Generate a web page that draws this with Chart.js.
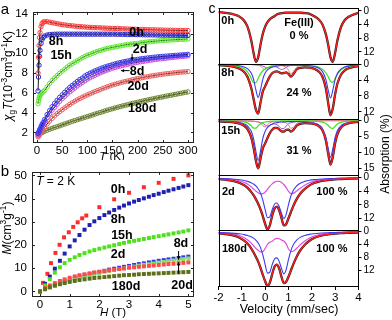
<!DOCTYPE html>
<html>
<head>
<meta charset="utf-8">
<title>Magnetic and Mössbauer data</title>
<script src="https://cdn.jsdelivr.net/npm/chart.js@4.4.1/dist/chart.umd.min.js"></script>
<style>
  html, body { margin: 0; padding: 0; background: #fff; }
  #wrap { position: relative; width: 392px; height: 320px; overflow: hidden; }
  canvas { position: absolute; }
  #chartA { left: 0; top: 0; }
  #chartB { left: 0; top: 160px; }
  #chartC { left: 200px; top: 0; }
</style>
</head>
<body>
<div id="wrap">
  <canvas id="chartA" width="200" height="160"></canvas>
  <canvas id="chartB" width="200" height="160"></canvas>
  <canvas id="chartC" width="192" height="320"></canvas>
</div>
<script>
// ---------- panel a : chi_g T vs T ----------
const T_K = [2,3,4,5,6,8,10,12,15,20,25,30,35,40,45,50,55,60,65,70,75,80,85,90,95,100,
  105,110,115,120,125,130,135,140,145,150,155,160,165,170,175,180,185,190,195,200,
  205,210,215,220,225,230,235,240,245,250,255,260,265,270,275,280,285,290,295,300];
const CHI_0H = [8.0,9.6,10.8,11.6,12.1,12.7,13.0,13.15,13.2,
  13.2,13.15,13.1,13.05,13.0,12.95,12.9,12.87,12.84,12.8,12.78,12.75,12.72,12.7,12.68,12.66,12.64,
  12.63,12.61,12.6,12.59,12.58,12.56,12.55,12.54,12.53,12.52,
  12.51,12.5,12.49,12.48,12.47,12.46,12.45,12.44,12.43,12.42,
  12.41,12.41,12.4,12.39,12.38,12.38,12.37,12.36,12.36,12.35,
  12.34,12.34,12.33,12.33,12.32,12.32,12.31,12.31,12.3,12.3];
const CHI_8H = [6.2,7.6,8.8,9.7,10.3,11.0,11.4,11.6,11.75,
  11.85,11.9,11.92,11.93,11.94,11.94,11.94,11.94,11.94,11.94,11.94,11.94,11.94,11.94,11.94,11.94,11.94,
  11.94,11.94,11.94,11.94,11.94,11.94,11.94,11.94,11.94,11.94,
  11.94,11.93,11.93,11.92,11.92,11.91,11.91,11.9,11.9,11.89,
  11.89,11.88,11.88,11.87,11.87,11.86,11.86,11.85,11.85,11.84,
  11.84,11.84,11.83,11.83,11.83,11.82,11.82,11.82,11.81,11.81];
const CHI_15H = [4.9,5.2,5.45,5.6,5.72,5.9,6.0,6.1,6.25,
  6.6,6.95,7.25,7.5,7.75,7.98,8.2,8.4,8.6,8.8,8.95,9.1,9.25,9.4,9.55,9.7,9.8,
  9.9,10.0,10.1,10.2,10.28,10.35,10.43,10.5,10.55,10.6,
  10.65,10.7,10.75,10.8,10.85,10.9,10.92,10.95,10.98,11.0,
  11.05,11.1,11.12,11.15,11.18,11.2,11.22,11.25,11.28,11.3,
  11.32,11.33,11.35,11.36,11.38,11.4,11.41,11.42,11.44,11.45];
const CHI_2D = [1.9,2.0,2.1,2.25,2.35,2.6,2.8,3.0,3.3,
  3.8,4.2,4.6,4.95,5.25,5.55,5.8,6.05,6.3,6.55,6.75,6.95,7.15,7.35,7.5,7.7,7.85,
  7.98,8.1,8.22,8.33,8.43,8.53,8.62,8.7,8.78,8.86,
  8.93,9.0,9.06,9.12,9.17,9.22,9.27,9.31,9.35,9.39,
  9.43,9.47,9.5,9.53,9.56,9.59,9.62,9.64,9.67,9.69,
  9.71,9.73,9.75,9.77,9.79,9.81,9.83,9.85,9.87,9.89];
const CHI_8D = [1.8,1.9,2.0,2.1,2.2,2.45,2.65,2.85,3.1,
  3.5,3.9,4.25,4.55,4.85,5.15,5.4,5.65,5.88,6.1,6.3,6.5,6.7,6.88,7.05,7.22,7.38,
  7.52,7.65,7.78,7.9,8.01,8.12,8.22,8.32,8.41,8.5,
  8.57,8.64,8.71,8.77,8.83,8.89,8.95,9.0,9.05,9.1,
  9.14,9.18,9.22,9.26,9.3,9.34,9.37,9.41,9.44,9.47,
  9.5,9.53,9.56,9.59,9.62,9.64,9.67,9.69,9.72,9.74];
const CHI_20D = [1.55,1.62,1.7,1.78,1.85,2.0,2.15,2.3,2.5,
  2.85,3.15,3.42,3.68,3.9,4.1,4.3,4.48,4.66,4.83,5.0,5.15,5.29,5.43,5.56,5.68,5.8,
  5.91,6.02,6.13,6.23,6.33,6.43,6.52,6.62,6.71,6.8,
  6.87,6.94,7.01,7.08,7.14,7.2,7.27,7.33,7.39,7.45,
  7.5,7.55,7.6,7.64,7.69,7.73,7.77,7.81,7.85,7.89,
  7.92,7.95,7.98,8.01,8.04,8.07,8.09,8.11,8.13,8.15];
const CHI_180D = [1.75,1.78,1.82,1.85,1.88,1.94,2.0,2.05,2.12,
  2.22,2.32,2.41,2.5,2.58,2.67,2.76,2.85,2.94,3.03,3.12,3.2,3.28,3.36,3.44,3.52,3.6,
  3.68,3.76,3.85,3.93,4.01,4.09,4.17,4.25,4.33,4.4,
  4.47,4.54,4.61,4.68,4.74,4.8,4.87,4.93,4.99,5.05,
  5.11,5.17,5.23,5.28,5.34,5.39,5.45,5.5,5.55,5.6,
  5.65,5.7,5.75,5.8,5.85,5.9,5.95,6.0,6.05,6.1];
const TICKS_A_X = [0,50,100,150,200,250,300];
const TICKS_A_Y = [2,4,6,8,10,12,14];

// ---------- panel b : M vs H at 2 K ----------
const H_0H = [0.1,0.25,0.37,0.52,0.66,0.81,0.97,1.12,1.27,1.42,1.56,2.0,2.5,3.0,3.5,4.0,4.5,5.0];
const M_0H = [3.7,7.6,12.2,16.6,20.1,23.3,25.5,27.8,29.8,31.5,32.7,36.3,39.7,42.5,44.9,46.8,48.5,50.0];
const H_T = [0,0.17,0.33,0.5,0.67,0.83,1.0,1.17,1.33,1.5,1.67,1.83,2.0,2.17,2.33,2.5,2.67,2.83,
  3.0,3.17,3.33,3.5,3.67,3.83,4.0,4.17,4.33,4.5,4.67,4.83,5.0];
const M_8H = [0,3.3,6.4,9.8,13.2,16.3,19.4,22.0,24.3,26.6,28.6,30.2,31.6,32.9,34.0,35.1,36.1,37.0,
  37.9,38.7,39.4,40.1,40.8,41.5,42.1,42.8,43.4,44.0,44.6,45.2,45.8];
const M_15H = [0,2.6,5.3,8.1,10.4,12.2,13.6,14.7,15.7,16.5,17.2,17.8,18.4,18.9,19.4,19.9,20.4,20.9,
  21.4,21.8,22.2,22.6,23.0,23.4,23.8,24.2,24.6,25.0,25.4,25.8,26.3];
const M_2D = [0,1.0,1.9,2.8,3.6,4.4,5.1,5.7,6.3,6.9,7.4,7.9,8.4,8.9,9.4,9.8,10.2,10.6,
  11.0,11.4,11.8,12.1,12.5,12.8,13.2,13.5,13.8,14.1,14.4,14.7,15.0];
const M_8D = [0,0.9,1.7,2.5,3.3,4.0,4.7,5.3,5.9,6.4,6.9,7.4,7.9,8.4,8.8,9.2,9.6,10.0,
  10.4,10.7,11.1,11.4,11.7,12.0,12.4,12.7,13.0,13.3,13.6,13.9,14.2];
const M_20D = [0,1.4,2.6,3.6,4.5,5.2,5.9,6.5,7.0,7.4,7.8,8.2,8.5,8.8,9.1,9.4,9.7,9.9,
  10.2,10.4,10.6,10.8,11.0,11.2,11.4,11.6,11.8,11.9,12.1,12.3,12.5];
const M_180D = [0,1.0,1.8,2.5,3.1,3.6,4.1,4.5,4.9,5.2,5.5,5.8,6.0,6.2,6.4,6.6,6.8,7.0,
  7.1,7.2,7.4,7.5,7.6,7.7,7.8,7.9,8.0,8.1,8.2,8.3,8.4];
const TICKS_B_X = [0,1,2,3,4,5];
const TICKS_B_Y = [0,10,20,30,40,50];

// ---------- panel c : Mössbauer spectra (absorption %) ----------
const VEL = [-2.0,-1.6,-1.3,-1.1,-0.9,-0.75,-0.6,-0.5,-0.4,-0.3,-0.2,-0.1,
  0.0,0.1,0.2,0.3,0.4,0.5,0.6,0.7,0.8,0.9,1.0,1.1,1.2,
  1.35,1.5,1.7,1.9,2.1,2.3,2.45,2.6,2.7,2.8,2.9,3.0,3.1,3.25,3.4,3.6,4.0];
const FIT_0H = [0.3,0.65,1.1,1.65,2.85,4.75,8.5,12.2,14.9,13.6,9.9,6.7,
  4.6,3.3,2.45,1.9,1.55,1.0,0.8,0.65,0.55,0.5,0.45,0.45,0.45,
  0.45,0.5,0.6,0.85,1.55,2.5,3.9,6.8,9.9,13.6,14.9,12.2,8.5,4.7,2.8,1.6,0.5];
const FIT_8H = [0.25,0.42,0.72,1.12,1.96,3.29,5.96,8.64,11.41,12.47,9.68,6.87,
  5.59,4.25,3.05,2.28,1.9,1.83,2.04,2.32,2.22,2.08,2.46,3.15,2.57,
  1.34,0.92,0.8,0.88,1.16,1.86,3.12,6.04,9.74,12.87,11.13,7.52,4.82,2.65,1.63,0.97,0.47];
const BLUE_8H = [0.1,0.16,0.27,0.41,0.71,1.17,2.23,3.76,6.43,8.4,6.42,3.75,
  2.25,1.45,1.0,0.75,0.57,0.46,0.38,0.33,0.29,0.26,0.25,0.23,0.23,
  0.23,0.24,0.29,0.38,0.58,1.02,1.82,3.83,6.52,8.53,6.52,3.83,2.27,1.2,0.73,0.43,0.2];
const GREEN_8H = [0.13,0.23,0.4,0.64,1.15,1.99,3.55,4.64,4.64,3.56,2.43,1.65,
  1.17,0.86,0.67,0.53,0.44,0.37,0.32,0.29,0.27,0.25,0.23,0.23,0.23,
  0.23,0.24,0.28,0.35,0.48,0.77,1.24,2.16,3.18,4.3,4.57,3.65,2.51,1.41,0.86,0.5,0.23];
const ORANGE_8H = [0.01,0.01,0.02,0.03,0.05,0.06,0.09,0.13,0.19,0.3,0.52,1.0,
  1.44,1.02,0.57,0.36,0.28,0.25,0.27,0.33,0.48,0.8,1.5,2.38,1.89,
  0.74,0.34,0.16,0.1,0.06,0.04,0.03,0.03,0.03,0.02,0.02,0.02,0.02,0.02,0.02,0.02,0.02];
const PURPLE_8H = [0.01,0.02,0.03,0.04,0.05,0.07,0.09,0.11,0.15,0.21,0.31,0.47,
  0.73,0.92,0.81,0.64,0.61,0.75,1.07,1.37,1.18,0.77,0.48,0.31,0.22,
  0.14,0.1,0.07,0.05,0.04,0.03,0.03,0.02,0.02,0.02,0.02,0.02,0.02,0.02,0.02,0.02,0.02];
const FIT_15H = [0.23,0.38,0.61,0.95,1.63,2.73,5.2,8.35,12.47,14.98,11.95,8.69,
  7.14,5.44,3.92,2.87,2.32,2.3,2.74,3.39,3.44,2.88,2.84,3.45,3.03,
  1.55,1.03,0.79,0.83,1.05,1.74,2.98,6.14,10.33,13.82,11.33,7.0,4.21,2.2,1.32,0.76,0.37];
const BLUE_15H = [0.14,0.24,0.39,0.6,1.04,1.73,3.29,5.59,9.55,12.5,9.55,5.59,
  3.35,2.15,1.5,1.1,0.78,0.64,0.52,0.45,0.4,0.36,0.33,0.31,0.31,
  0.3,0.33,0.39,0.51,0.77,1.37,2.45,5.18,8.82,11.53,8.82,5.18,3.07,1.61,0.97,0.55,0.25];
const GREEN_15H = [0.05,0.08,0.14,0.23,0.42,0.79,1.61,2.36,2.36,1.62,1.0,0.64,
  0.43,0.31,0.24,0.19,0.15,0.13,0.12,0.1,0.09,0.09,0.09,0.09,0.09,
  0.09,0.1,0.09,0.12,0.17,0.28,0.46,0.89,1.45,2.23,2.45,1.76,1.08,0.54,0.31,0.17,0.08];
const ORANGE_15H = [0.01,0.02,0.03,0.05,0.07,0.09,0.14,0.19,0.28,0.47,0.84,1.58,
  1.99,1.26,0.69,0.42,0.31,0.25,0.29,0.34,0.49,0.75,1.38,2.38,2.18,
  0.88,0.4,0.19,0.11,0.05,0.04,0.03,0.03,0.03,0.03,0.03,0.03,0.02,0.02,0.02,0.02,0.02];
const PURPLE_15H = [0.03,0.04,0.05,0.07,0.1,0.12,0.16,0.21,0.28,0.39,0.56,0.88,
  1.37,1.72,1.49,1.16,1.08,1.28,1.81,2.5,2.46,1.68,1.04,0.67,0.45,
  0.28,0.2,0.12,0.09,0.06,0.05,0.04,0.04,0.03,0.03,0.03,0.03,0.03,0.02,0.02,0.02,0.02];
const FIT_2D = [0.43,0.68,1.07,1.51,2.23,2.98,4.15,5.14,6.29,7.63,9.29,11.27,
  13.57,15.16,13.97,11.17,9.08,8.49,9.54,11.87,14.0,13.67,11.9,10.14,8.41,
  6.29,4.72,3.28,2.26,1.57,1.14,0.92,0.77,0.69,0.61,0.54,0.49,0.44,0.38,0.33,0.28,0.21];
const BLUE_2D = [0.23,0.33,0.47,0.61,0.83,1.08,1.45,1.84,2.39,3.23,4.54,6.57,
  9.37,11.76,11.47,9.37,7.78,7.44,8.44,10.47,12.0,10.77,7.9,5.44,3.81,
  2.39,1.62,1.08,0.76,0.57,0.44,0.37,0.32,0.29,0.26,0.24,0.22,0.2,0.18,0.16,0.14,0.11];
const PINK_2D = [0.2,0.35,0.6,0.9,1.4,1.9,2.7,3.3,3.9,4.4,4.75,4.7,
  4.2,3.4,2.5,1.8,1.3,1.05,1.1,1.4,2.0,2.9,4.0,4.7,4.6,
  3.9,3.1,2.2,1.5,1.0,0.7,0.55,0.45,0.4,0.35,0.3,0.27,0.24,0.2,0.17,0.14,0.1];
const FIT_180D = [0.5,0.86,1.32,1.87,2.81,3.79,5.2,6.42,7.83,9.35,11.29,13.48,
  15.51,16.94,15.92,13.31,10.96,10.28,11.48,14.12,16.1,15.65,14.09,12.18,10.29,
  7.83,5.88,4.09,2.84,1.98,1.43,1.16,0.95,0.84,0.75,0.66,0.6,0.54,0.47,0.41,0.34,0.25];
const BLUE_180D = [0.25,0.36,0.52,0.67,0.91,1.19,1.6,2.02,2.63,3.55,4.99,7.23,
  10.31,12.94,12.62,10.31,8.56,8.18,9.28,11.52,13.2,11.85,8.69,5.98,4.19,
  2.63,1.78,1.19,0.84,0.63,0.48,0.41,0.35,0.32,0.29,0.26,0.24,0.22,0.2,0.18,0.15,0.12];
const PINK_180D = [0.25,0.5,0.8,1.2,1.9,2.6,3.6,4.4,5.2,5.8,6.3,6.25,
  5.2,4.0,3.3,3.0,2.4,2.1,2.2,2.6,2.9,3.8,5.4,6.2,6.1,
  5.2,4.1,2.9,2.0,1.35,0.95,0.75,0.6,0.52,0.46,0.4,0.36,0.32,0.27,0.23,0.19,0.13];
const TICKS_C_X = [-2,-1,0,1,2,3,4];
const TICKS_C_Y = [[0,4,8,12],[0,4,8,12],[0,5,10,15],[0,4,8,12],[0,4,8,12]];

// ---------- helpers ----------
const FONT = '"Liberation Sans", Arial, Helvetica, sans-serif';
Chart.defaults.font.family = FONT;
Chart.defaults.color = '#000';

function pts(xs, ys) { return xs.map((x, i) => ({ x, y: ys[i] })); }
function fixTicks(list) { return s => { s.ticks = list.map(v => ({ value: v })); }; }

// text made of pieces: [text, 'n' | 'i' | 'sub' | 'sup']
function richText(ctx, parts, x, y, size, rotate, align) {
  ctx.save();
  ctx.translate(x, y);
  if (rotate) ctx.rotate(-Math.PI / 2);
  const spec = p => {
    const small = p[1] === 'sub' || p[1] === 'sup';
    return {
      font: (p[1] === 'i' ? 'italic ' : '') + (small ? size * 0.7 : size) + 'px ' + FONT,
      dy: p[1] === 'sub' ? size * 0.3 : p[1] === 'sup' ? -size * 0.38 : 0
    };
  };
  let w = 0;
  parts.forEach(p => { ctx.font = spec(p).font; w += ctx.measureText(p[0]).width; });
  let cx = align === 'left' ? 0 : -w / 2;
  ctx.fillStyle = '#000';
  ctx.textBaseline = 'middle';
  ctx.textAlign = 'left';
  parts.forEach(p => {
    const sp = spec(p);
    ctx.font = sp.font;
    ctx.fillText(p[0], cx, sp.dy);
    cx += ctx.measureText(p[0]).width;
  });
  ctx.restore();
}

function arrow(ctx, x1, y1, x2, y2) {
  const ang = Math.atan2(y2 - y1, x2 - x1), h = 3.5;
  ctx.beginPath(); ctx.moveTo(x1, y1); ctx.lineTo(x2, y2); ctx.stroke();
  ctx.beginPath(); ctx.moveTo(x2, y2);
  ctx.lineTo(x2 - h * Math.cos(ang - 0.5), y2 - h * Math.sin(ang - 0.5));
  ctx.lineTo(x2 - h * Math.cos(ang + 0.5), y2 - h * Math.sin(ang + 0.5));
  ctx.closePath(); ctx.fill();
}

function boldLabel(ctx, text, x, y, size, align) {
  ctx.font = 'bold ' + size + 'px ' + FONT;
  ctx.fillStyle = '#000';
  ctx.textAlign = align || 'center';
  ctx.textBaseline = 'middle';
  ctx.fillText(text, x, y);
}

// frame with small inward ticks (panels a and b)
const frameTicks = {
  id: 'frameTicks',
  afterDraw(chart) {
    const { ctx, chartArea: a, scales: { x, y } } = chart;
    ctx.save();
    ctx.strokeStyle = '#222';
    ctx.lineWidth = 1;
    ctx.strokeRect(Math.round(a.left) + 0.5, Math.round(a.top) + 0.5,
      Math.round(a.width) - 1, Math.round(a.height) - 1);
    ctx.beginPath();
    x.ticks.forEach(t => {
      const p = Math.round(x.getPixelForValue(t.value)) + 0.5;
      ctx.moveTo(p, a.bottom); ctx.lineTo(p, a.bottom - 3);
      ctx.moveTo(p, a.top); ctx.lineTo(p, a.top + 3);
    });
    y.ticks.forEach(t => {
      const p = Math.round(y.getPixelForValue(t.value)) + 0.5;
      ctx.moveTo(a.left, p); ctx.lineTo(a.left + 3, p);
      ctx.moveTo(a.right, p); ctx.lineTo(a.right - 3, p);
    });
    ctx.stroke();
    ctx.restore();
  }
};

function plainAxis(min, max, tickList, size, pad, extra) {
  return Object.assign({
    type: 'linear', min, max,
    afterBuildTicks: fixTicks(tickList),
    grid: { display: false, drawTicks: false },
    border: { display: false },
    ticks: { font: { size: 11.5 }, color: '#000', padding: pad, maxRotation: 0, autoSkip: false, callback: v => v },
    afterFit: s => { if (s.isHorizontal()) s.height = size; else s.width = size; }
  }, extra || {});
}

const baseOpts = {
  responsive: false,
  animation: false,
  devicePixelRatio: 1,
  plugins: { legend: { display: false }, tooltip: { enabled: false } }
};

// ---------- chart a ----------
const seriesA = [
  ['0h', CHI_0H, '#ff3b3b'],
  ['8h', CHI_8H, '#2828d0'],
  ['15h', CHI_15H, '#5ee830'],
  ['2d', CHI_2D, '#3c3cf0'],
  ['8d', CHI_8D, '#c24ae8'],
  ['20d', CHI_20D, '#f06060'],
  ['180d', CHI_180D, '#6f8530']
];

new Chart(document.getElementById('chartA'), {
  type: 'line',
  data: {
    datasets: seriesA.map(([name, ys, col]) => ({
      label: name,
      data: pts(T_K, ys),
      borderColor: '#000',
      borderWidth: 0.9,
      pointRadius: 2.2,
      pointBorderWidth: 1,
      pointBorderColor: col,
      pointBackgroundColor: 'rgba(255,255,255,0)',
      cubicInterpolationMode: 'monotone'
    }))
  },
  options: Object.assign({}, baseOpts, {
    layout: { padding: { left: 0, top: 3, right: 6, bottom: 0 } },
    scales: {
      x: plainAxis(-8, 312, TICKS_A_X, 17, 1, { position: 'bottom' }),
      y: plainAxis(0.93, 14.19, TICKS_A_Y, 33, 5, { position: 'left' })
    }
  }),
  plugins: [frameTicks, {
    id: 'textA',
    afterDraw(chart) {
      const { ctx, scales: { x, y } } = chart;
      const P = (t, v) => [x.getPixelForValue(t), y.getPixelForValue(v)];
      ctx.save();
      ctx.font = '15px ' + FONT; ctx.fillStyle = '#000';
      ctx.textAlign = 'center'; ctx.textBaseline = 'middle';
      ctx.fillText('a', 5, 10);
      richText(ctx, [['χ', 'i'], ['g', 'sub'], ['T', 'i'], ['(10', 'n'], ['-3', 'sup'], ['cm', 'n'],
        ['3', 'sup'], ['g', 'n'], ['-1', 'sup'], ['K)', 'n']], 9, 76, 12, true);
      richText(ctx, [['T', 'i'], [' (K)', 'n']], 112, 156.5, 11.5);
      [['0h', 198, 12.1], ['8h', 38, 11.2], ['15h', 48, 9.74], ['2d', 205, 10.4],
       ['8d', 199, 8.2], ['20d', 201, 6.6], ['180d', 209, 4.4]].forEach(([s, t, v]) => {
        const [px, py] = P(t, v);
        boldLabel(ctx, s, px, py, 12.5);
      });
      ctx.strokeStyle = '#000'; ctx.fillStyle = '#000'; ctx.lineWidth = 1;
      let a1 = P(189, 9.95), a2 = P(189, 9.3);
      arrow(ctx, a1[0], a1[1], a2[0], a2[1]);
      a1 = P(184, 8.25); a2 = P(167, 8.25);
      arrow(ctx, a1[0], a1[1], a2[0], a2[1]);
      ctx.restore();
    }
  }]
});

// ---------- chart b ----------
const seriesB = [
  ['0h', H_0H, M_0H, '#ff2a2a'],
  ['8h', H_T, M_8H, '#2020b0'],
  ['15h', H_T, M_15H, '#4ee01e'],
  ['2d', H_T, M_2D, '#3535e8'],
  ['8d', H_T, M_8D, '#80e860'],
  ['20d', H_T, M_20D, '#ff4a4a'],
  ['180d', H_T, M_180D, '#5d7019']
];

new Chart(document.getElementById('chartB'), {
  type: 'line',
  data: {
    datasets: seriesB.map(([name, xs, ys, col]) => ({
      label: name,
      data: pts(xs, ys),
      showLine: false,
      pointStyle: 'rect',
      pointRadius: 2.8,
      pointBorderWidth: 0,
      pointBackgroundColor: col,
      pointBorderColor: col
    })).reverse()
  },
  options: Object.assign({}, baseOpts, {
    layout: { padding: { left: 0, top: 3, right: 6, bottom: 0 } },
    scales: {
      x: plainAxis(-0.27, 5.19, TICKS_B_X, 23, 1, { position: 'bottom' }),
      y: plainAxis(-2.4, 51.5, TICKS_B_Y, 32, 5, { position: 'left' })
    }
  }),
  plugins: [frameTicks, {
    id: 'textB',
    afterDraw(chart) {
      const { ctx, scales: { x, y } } = chart;
      const P = (h, m) => [x.getPixelForValue(h), y.getPixelForValue(m)];
      ctx.save();
      ctx.font = '15px ' + FONT; ctx.fillStyle = '#000';
      ctx.textAlign = 'center'; ctx.textBaseline = 'middle';
      ctx.fillText('b', 5, 12);
      richText(ctx, [['M', 'i'], ['(cm', 'n'], ['3', 'sup'], ['g', 'n'], ['-1', 'sup'], [')', 'n']],
        8, 68, 12, true);
      richText(ctx, [['H', 'i'], [' (T)', 'n']], 113, 153, 11.5);
      const t2 = P(-0.13, 47.4);
      richText(ctx, [['T', 'i'], [' = 2 K', 'n']], t2[0], t2[1], 12, false, 'left');
      [['0h', 2.63, 43.8], ['8h', 2.63, 31.0], ['15h', 2.76, 24.1], ['2d', 2.63, 15.7],
       ['180d', 2.9, 2.0], ['8d', 4.75, 20.5], ['20d', 4.79, 2.4]].forEach(([s, h, m]) => {
        const [px, py] = P(h, m);
        boldLabel(ctx, s, px, py, 12.5);
      });
      ctx.strokeStyle = '#000'; ctx.fillStyle = '#000'; ctx.lineWidth = 1;
      let a1 = P(4.67, 17.4), a2 = P(4.67, 13.7);
      arrow(ctx, a1[0], a1[1], a2[0], a2[1]);
      a1 = P(4.67, 7.6); a2 = P(4.67, 12.6);
      arrow(ctx, a1[0], a1[1], a2[0], a2[1]);
      ctx.restore();
    }
  }]
});

// ---------- chart c ----------
const STYLE_C = {
  data:   ['#1c1c1c', 2.3, 3],
  fit:    ['#ff1e1e', 1.4, 0],
  blue:   ['#3b3bf2', 1.1, 1],
  green:  ['#3ee01a', 1.2, 1],
  orange: ['#e0866a', 1.0, 2],
  purple: ['#a448d8', 1.0, 2],
  pink:   ['#e04ae0', 1.2, 1]
};
const panelsC = [
  { axis: 'y0', min: -0.88, max: 15.44, curves: [['data', FIT_0H], ['fit', FIT_0H]] },
  { axis: 'y1', min: -0.15, max: 13.87, curves: [['data', FIT_8H], ['blue', BLUE_8H], ['green', GREEN_8H],
      ['orange', ORANGE_8H], ['purple', PURPLE_8H], ['fit', FIT_8H]] },
  { axis: 'y2', min: -0.44, max: 17.0, curves: [['data', FIT_15H], ['blue', BLUE_15H], ['green', GREEN_15H],
      ['orange', ORANGE_15H], ['purple', PURPLE_15H], ['fit', FIT_15H]] },
  { axis: 'y3', min: -0.85, max: 15.47, curves: [['data', FIT_2D], ['blue', BLUE_2D], ['pink', PINK_2D], ['fit', FIT_2D]] },
  { axis: 'y4', min: -0.4, max: 16.98, curves: [['data', FIT_180D], ['blue', BLUE_180D], ['pink', PINK_180D], ['fit', FIT_180D]] }
];

const datasetsC = [];
panelsC.forEach(p => p.curves.forEach(([kind, ys]) => {
  const [col, w, ord] = STYLE_C[kind];
  datasetsC.push({
    data: pts(VEL, ys), yAxisID: p.axis, borderColor: col, borderWidth: w, order: ord,
    pointRadius: 0, cubicInterpolationMode: 'monotone'
  });
}));

const scalesC = {
  x: {
    type: 'linear', position: 'bottom', min: -2, max: 4,
    afterBuildTicks: fixTicks(TICKS_C_X),
    grid: { display: true, drawOnChartArea: false, drawTicks: true, tickLength: 4, color: '#000' },
    border: { display: true, color: '#000' },
    ticks: { font: { size: 11.5 }, color: '#000', padding: 1, maxRotation: 0, autoSkip: false, callback: v => v },
    afterFit: s => { s.height = 34; }
  }
};
panelsC.forEach((p, i) => {
  scalesC[p.axis] = {
    type: 'linear', position: 'right', stack: 'moss', stackWeight: 1, reverse: true,
    min: p.min, max: p.max,
    afterBuildTicks: fixTicks(TICKS_C_Y[i]),
    grid: { display: true, drawOnChartArea: false, drawTicks: true, tickLength: 3, color: '#000' },
    border: { display: true, color: '#000' },
    ticks: { font: { size: 10 }, color: '#000', padding: 2, autoSkip: false, callback: v => v },
    afterFit: s => { s.width = 20; }
  };
});

new Chart(document.getElementById('chartC'), {
  type: 'line',
  data: { datasets: datasetsC },
  options: Object.assign({}, baseOpts, {
    layout: { padding: { left: 18.5, top: 7, right: 13.5, bottom: 0 } },
    scales: scalesC
  }),
  plugins: [{
    id: 'textC',
    afterDraw(chart) {
      const { ctx, chartArea: a, scales } = chart;
      ctx.save();
      ctx.strokeStyle = '#000'; ctx.lineWidth = 1;
      ctx.beginPath();
      ctx.moveTo(Math.round(a.left) + 0.5, a.top); ctx.lineTo(Math.round(a.left) + 0.5, a.bottom);
      ctx.moveTo(a.left, Math.round(a.top) + 0.5); ctx.lineTo(a.right, Math.round(a.top) + 0.5);
      panelsC.slice(1).forEach(p => {
        const t = Math.round(scales[p.axis].top) + 0.5;
        ctx.moveTo(a.left, t); ctx.lineTo(a.right, t);
      });
      ctx.stroke();

      ctx.font = '14px ' + FONT; ctx.fillStyle = '#000';
      ctx.textAlign = 'center'; ctx.textBaseline = 'middle';
      ctx.fillText('c', 12, 9);
      richText(ctx, [['Velocity (mm/sec)', 'n']], 89, 310, 12.5);
      richText(ctx, [['Absorption (%)', 'n']], 186, 154, 12, true);

      const x = scales.x;
      [['0h', 'y0', -1.88, 2.9, 'left'], ['Fe(III)', 'y0', 1.45, 3.5, 'center'], ['0 %', 'y0', 1.45, 7.3, 'center'],
       ['8h', 'y1', -1.88, 2.2, 'left'], ['24 %', 'y1', 1.45, 7.2, 'center'],
       ['15h', 'y2', -1.88, 3.4, 'left'], ['31 %', 'y2', 1.45, 9.4, 'center'],
       ['2d', 'y3', -1.85, 4.3, 'left'], ['100 %', 'y3', 2.86, 4.3, 'center'],
       ['180d', 'y4', -1.85, 5.45, 'left'], ['100 %', 'y4', 2.86, 5.45, 'center']
      ].forEach(([s, ax, v, val, al]) => {
        boldLabel(ctx, s, x.getPixelForValue(v), scales[ax].getPixelForValue(val), 11, al);
      });
      ctx.restore();
    }
  }]
});
</script>
</body>
</html>
